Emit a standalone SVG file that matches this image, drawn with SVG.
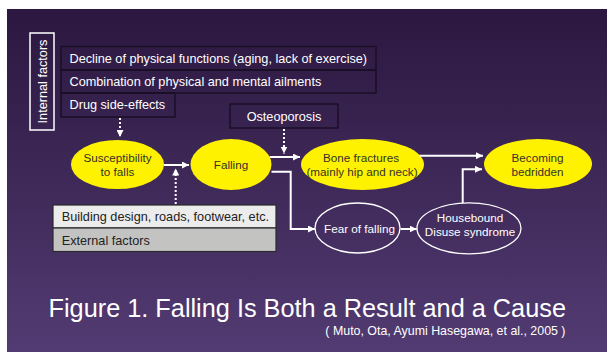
<svg xmlns="http://www.w3.org/2000/svg" width="607" height="355" viewBox="0 0 607 355">
  <defs>
    <linearGradient id="bg" x1="0" y1="0" x2="0" y2="1">
      <stop offset="0" stop-color="#2b173f"/>
      <stop offset="1" stop-color="#523b72"/>
    </linearGradient>
    <marker id="head" markerUnits="userSpaceOnUse" markerWidth="8" markerHeight="7" refX="7" refY="3.5" orient="auto">
      <path d="M0,0 L7,3.5 L0,7 z" fill="#ffffff"/>
    </marker>
    <style>
      text { font-family: "Liberation Sans", Arial, sans-serif; }
      .lbl { fill: #ffffff; font-size: 12.7px; }
      .box { fill: none; stroke: #1a0f26; stroke-width: 1.5; }
      .yel { fill: #fff200; }
      .ring { fill: none; stroke: #ffffff; stroke-width: 1.3; }
      .dark { fill: #333326; font-size: 11.7px; text-anchor: middle; }
      .light { fill: #ffffff; font-size: 11.7px; text-anchor: middle; }
      .wire { fill: none; stroke: #ffffff; stroke-width: 2; marker-end: url(#head); }
      .dots { fill: none; stroke: #ffffff; stroke-width: 2; stroke-dasharray: 2 2; marker-end: url(#head); }
    </style>
  </defs>

  <!-- page and slide background -->
  <rect x="0" y="0" width="607" height="355" fill="#ffffff"/>
  <rect x="7" y="9" width="600" height="343" fill="url(#bg)"/>

  <!-- internal factors -->
  <g id="internal-factors">
    <rect x="30" y="33" width="24" height="97" fill="none" stroke="#ffffff" stroke-width="1.5"/>
    <text class="lbl" transform="translate(46.5,81.5) rotate(-90)" text-anchor="middle">Internal factors</text>
  </g>
  <g id="decline">
    <rect class="box" x="61" y="46.5" width="315" height="23.5"/>
    <text class="lbl" x="69.5" y="63">Decline of physical functions (aging, lack of exercise)</text>
  </g>
  <g id="combination">
    <rect class="box" x="61" y="70" width="315" height="23"/>
    <text class="lbl" x="69.5" y="86">Combination of physical and mental ailments</text>
  </g>
  <g id="drug">
    <rect class="box" x="61" y="93" width="114" height="24"/>
    <text class="lbl" x="69.5" y="109">Drug side-effects</text>
  </g>
  <g id="osteoporosis">
    <rect class="box" x="230" y="104" width="108" height="24"/>
    <text class="lbl" x="284" y="121" text-anchor="middle">Osteoporosis</text>
  </g>

  <!-- external factors -->
  <g id="external-factors">
    <rect x="53" y="205" width="223" height="23" fill="#ececec" stroke="#2a2a2a" stroke-width="1.2"/>
    <rect x="53" y="228" width="223" height="23.5" fill="#c3c4c2" stroke="#2a2a2a" stroke-width="1.2"/>
    <text x="61.7" y="221" fill="#222222" font-size="12.7">Building design, roads, footwear, etc.</text>
    <text x="61.7" y="244.5" fill="#222222" font-size="12.7">External factors</text>
  </g>

  <!-- outcome nodes -->
  <g id="susceptibility">
    <ellipse class="yel" cx="117.5" cy="164.5" rx="46.5" ry="24.5"/>
    <text class="dark" x="117.5" y="162">Susceptibility</text>
    <text class="dark" x="117.5" y="176">to falls</text>
  </g>
  <g id="falling">
    <ellipse class="yel" cx="231" cy="164.5" rx="40.5" ry="25.5"/>
    <text class="dark" x="231" y="168.5">Falling</text>
  </g>
  <g id="bone-fractures">
    <ellipse class="yel" cx="362.5" cy="164.5" rx="61.5" ry="25.5"/>
    <text class="dark" x="361" y="162">Bone fractures</text>
    <text class="dark" x="362" y="175.5" font-size="10.5">(mainly hip and neck)</text>
  </g>
  <g id="bedridden">
    <ellipse class="yel" cx="538" cy="164" rx="54" ry="25"/>
    <text class="dark" x="537.5" y="162">Becoming</text>
    <text class="dark" x="537.5" y="175.5">bedridden</text>
  </g>
  <g id="fear">
    <ellipse class="ring" cx="357.5" cy="228" rx="42.5" ry="25"/>
    <text class="light" x="359.5" y="232.5">Fear of falling</text>
  </g>
  <g id="housebound">
    <ellipse class="ring" cx="469" cy="228.3" rx="52" ry="25.5"/>
    <text class="light" x="470" y="221.5">Housebound</text>
    <text class="light" x="470" y="236">Disuse syndrome</text>
  </g>

  <!-- connectors -->
  <g id="connectors">
    <path class="dots" d="M120,118 V137"/>
    <path class="wire" d="M164,165 H189"/>
    <path class="dots" d="M175.7,204 V168.5"/>
    <path class="dots" d="M284,129 V153.5"/>
    <path class="wire" d="M269.5,157 H300"/>
    <path class="wire" d="M271.5,171.7 H290.7 V229 H315"/>
    <path class="wire" d="M419.5,155.7 H483"/>
    <path class="wire" d="M400.5,229 H416.7"/>
    <path class="wire" d="M462.7,203 V169.3 H482"/>
  </g>

  <!-- caption -->
  <g id="caption">
    <text x="48.5" y="316.5" fill="#ffffff" font-size="25.3">Figure 1. Falling Is Both a Result and a Cause</text>
    <text x="565.5" y="334.5" fill="#ffffff" font-size="12.4" text-anchor="end">( Muto, Ota, Ayumi Hasegawa, et al., 2005 )</text>
  </g>
</svg>
